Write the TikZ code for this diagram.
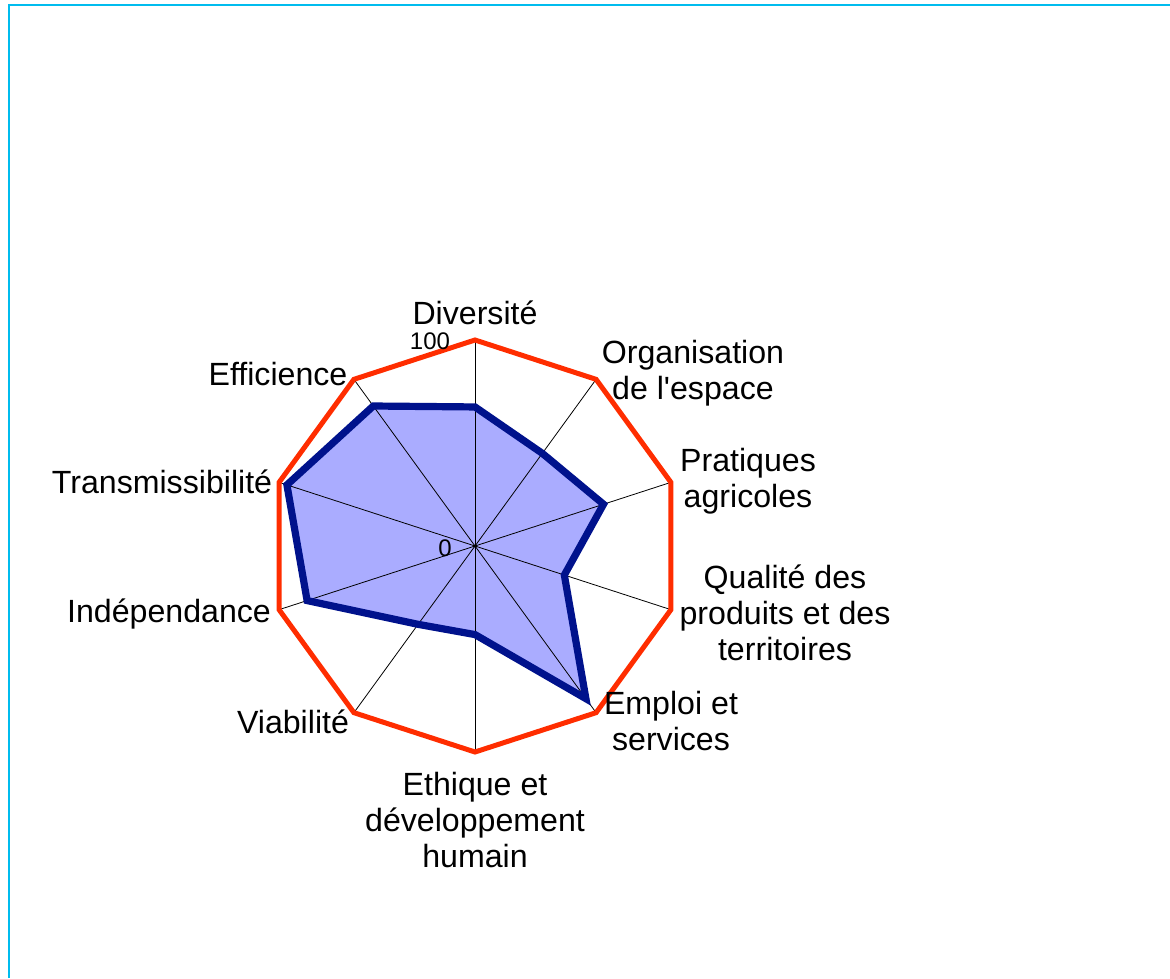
\documentclass[tikz,border=0pt]{standalone}
\usepackage{fontspec}
\setmainfont{Liberation Sans}
\definecolor{framecol}{RGB}{0,188,238}
\definecolor{redline}{RGB}{255,45,0}
\definecolor{navyline}{RGB}{0,18,140}
\definecolor{fillblue}{RGB}{170,172,255}
\begin{document}
\begin{tikzpicture}[x=0.75pt,y=-0.75pt,
  lab/.style={font=\fontsize{24.1}{27}\selectfont, align=center, inner sep=0pt, text=black},
  tick/.style={font=\fontsize{18}{20}\selectfont, inner sep=0pt},
  axisline/.style={black, line width=0.6pt},
  outer/.style={redline, line width=3.75pt, line join=miter},
  series/.style={navyline, line width=5.4pt, line join=miter}]
\useasboundingbox (0,0) rectangle (1170,978);
\draw[framecol, line width=1.6pt] (9,978) -- (9,5) -- (1170,5);
\coordinate (c) at (475,546);
\foreach \i in {0,...,9}{
  \coordinate (a\i) at ({475+206*cos(90-36*\i)},{546-206*sin(90-36*\i)});
}
\foreach \v [count=\j from 0] in {0.675,0.556,0.656,0.456,0.916,0.43,0.47,0.857,0.96,0.84}{
  \coordinate (d\j) at ({475+206*\v*cos(90-36*\j)},{546-206*\v*sin(90-36*\j)});
}
\fill[fillblue] (d0) -- (d1) -- (d2) -- (d3) -- (d4) -- (d5) -- (d6) -- (d7) -- (d8) -- (d9) -- cycle;
\foreach \i in {0,...,9}{ \draw[axisline] (c) -- (a\i); }
\fill (c) circle (1.5);
\draw[outer] (a0) -- (a1) -- (a2) -- (a3) -- (a4) -- (a5) -- (a6) -- (a7) -- (a8) -- (a9) -- cycle;
\draw[series] (d0) -- (d1) -- (d2) -- (d3) -- (d4) -- (d5) -- (d6) -- (d7) -- (d8) -- (d9) -- cycle;
\node[tick] (t100) at (430,341) {100};
\node[tick] (t0) at (445,548) {0};
\node[lab] (l0) at (475,313) {Diversité};
\node[lab] (l1) at (693,373) {Organisation\\de l\textquotesingle espace};
\node[lab] (l2) at (748,481) {Pratiques\\agricoles};
\node[lab] (l3) at (785,613) {Qualité des\\produits et des\\territoires};
\node[lab] (l4) at (671,721) {Emploi et\\services};
\node[lab] (l5) at (475,820) {Ethique et\\développement\\humain};
\node[lab] (l6) at (293,722) {Viabilité};
\node[lab] (l7) at (169,614) {Indépendance};
\node[lab] (l8) at (162,482) {Transmissibilité};
\node[lab] (l9) at (278,374) {Efficience};
\end{tikzpicture}
\end{document}
